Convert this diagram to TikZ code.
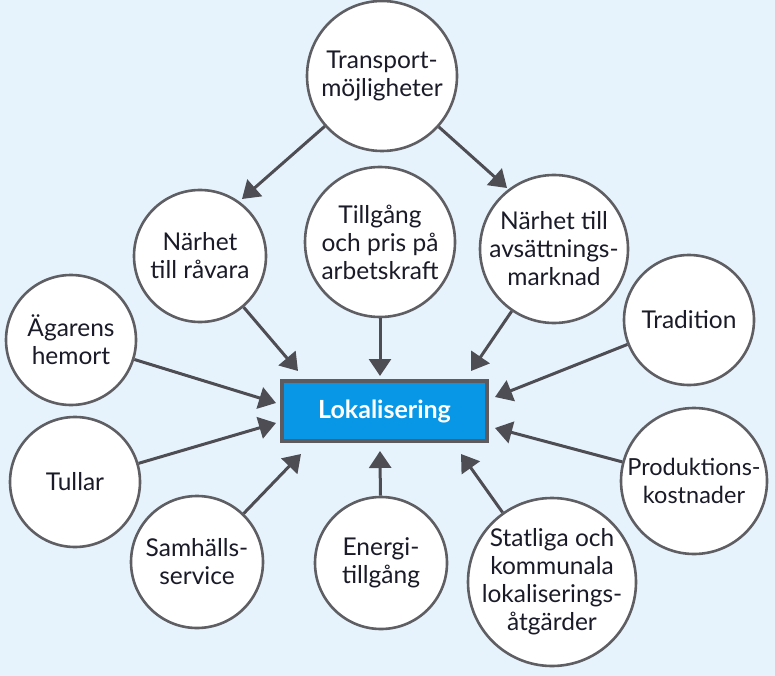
\documentclass[tikz,border=0pt]{standalone}
\usepackage{fontspec}
\setmainfont{Lato}
\usetikzlibrary{arrows.meta}
\definecolor{bgc}{HTML}{E7F3FC}
\definecolor{circc}{HTML}{5E5E63}
\definecolor{arrc}{HTML}{4D4D53}
\definecolor{ink}{HTML}{1A1A28}
\definecolor{boxf}{HTML}{0797E6}
\definecolor{boxb}{HTML}{5B5B60}
\begin{document}
\begin{tikzpicture}[x=1pt,y=-1pt,
  circ/.style={circle, draw=circc, line width=2.6pt, fill=white, inner sep=0pt, minimum size=#1},
  lbl/.style={align=center, text=ink, font=\fontsize{24.5}{28}\selectfont, inner sep=0pt},
  boxnode/.style={rectangle, draw=boxb, line width=3.5pt, fill=boxf, text=white,
    minimum width=205pt, minimum height=60pt, inner sep=0pt,
    font=\bfseries\fontsize{25}{28}\selectfont},
  arr/.style={draw=arrc, line width=3pt, -{Triangle[length=17pt,width=22pt]}}
]
\fill[bgc] (0,0) rectangle (775,676);
\useasboundingbox (0,0) rectangle (775,676);

% circles
\node[circ=150pt] (trans) at (382,76) {};
\node[circ=132pt] (rav) at (200,256) {};
\node[circ=150pt] (till) at (380,242) {};
\node[circ=148pt] (avs) at (554,249) {};
\node[circ=130pt] (ag) at (71,340) {};
\node[circ=130pt] (trad) at (689,320) {};
\node[circ=130pt] (tull) at (75,482) {};
\node[circ=146pt] (prod) at (694,481) {};
\node[circ=132pt] (sam) at (197,562) {};
\node[circ=132pt] (ene) at (381,563) {};
\node[circ=168pt] (stat) at (552,582) {};

% labels
\node[lbl] (transT) at (trans) {Transport-\\möjligheter};
\node[lbl] (ravT) at (rav) {Närhet\\till råvara};
\node[lbl] (tillT) at (till) {Tillgång\\och pris på\\arbetskraft};
\node[lbl] (avsT) at (avs) {Närhet till\\avsättnings-\\marknad};
\node[lbl] (agT) at (ag) {Ägarens\\hemort};
\node[lbl] (tradT) at (trad) {Tradition};
\node[lbl] (tullT) at (tull) {Tullar};
\node[lbl, font=\fontsize{23.5}{28}\selectfont] (prodT) at (prod) {Produktions-\\kostnader};
\node[lbl] (samT) at (sam) {Samhälls-\\service};
\node[lbl] (eneT) at (ene) {Energi-\\tillgång};
\node[lbl] (statT) at (stat) {Statliga och\\kommunala\\lokaliserings-\\åtgärder};

% central box
\node[boxnode] (lok) at (384.5,411) {Lokalisering};

% arrow tips
\coordinate (tRav) at (242,199);
\coordinate (tAvs) at (507,188);
\coordinate (t1) at (298,371);
\coordinate (t2) at (380,376);
\coordinate (t3) at (471,371);
\coordinate (t4) at (276,403);
\coordinate (t5) at (276,423);
\coordinate (t6) at (301,454);
\coordinate (t7) at (380,451);
\coordinate (t8) at (461,454);
\coordinate (t9) at (495,397);
\coordinate (t10) at (495,428);

\draw[arr] (trans) -- (tRav);
\draw[arr] (trans) -- (tAvs);
\draw[arr] (rav) -- (t1);
\draw[arr] (till) -- (t2);
\draw[arr] (avs) -- (t3);
\draw[arr] (ag) -- (t4);
\draw[arr] (tull) -- (t5);
\draw[arr] (sam) -- (t6);
\draw[arr] (ene) -- (t7);
\draw[arr] (stat) -- (t8);
\draw[arr] (trad) -- (t9);
\draw[arr] (prod) -- (t10);
\end{tikzpicture}
\end{document}
